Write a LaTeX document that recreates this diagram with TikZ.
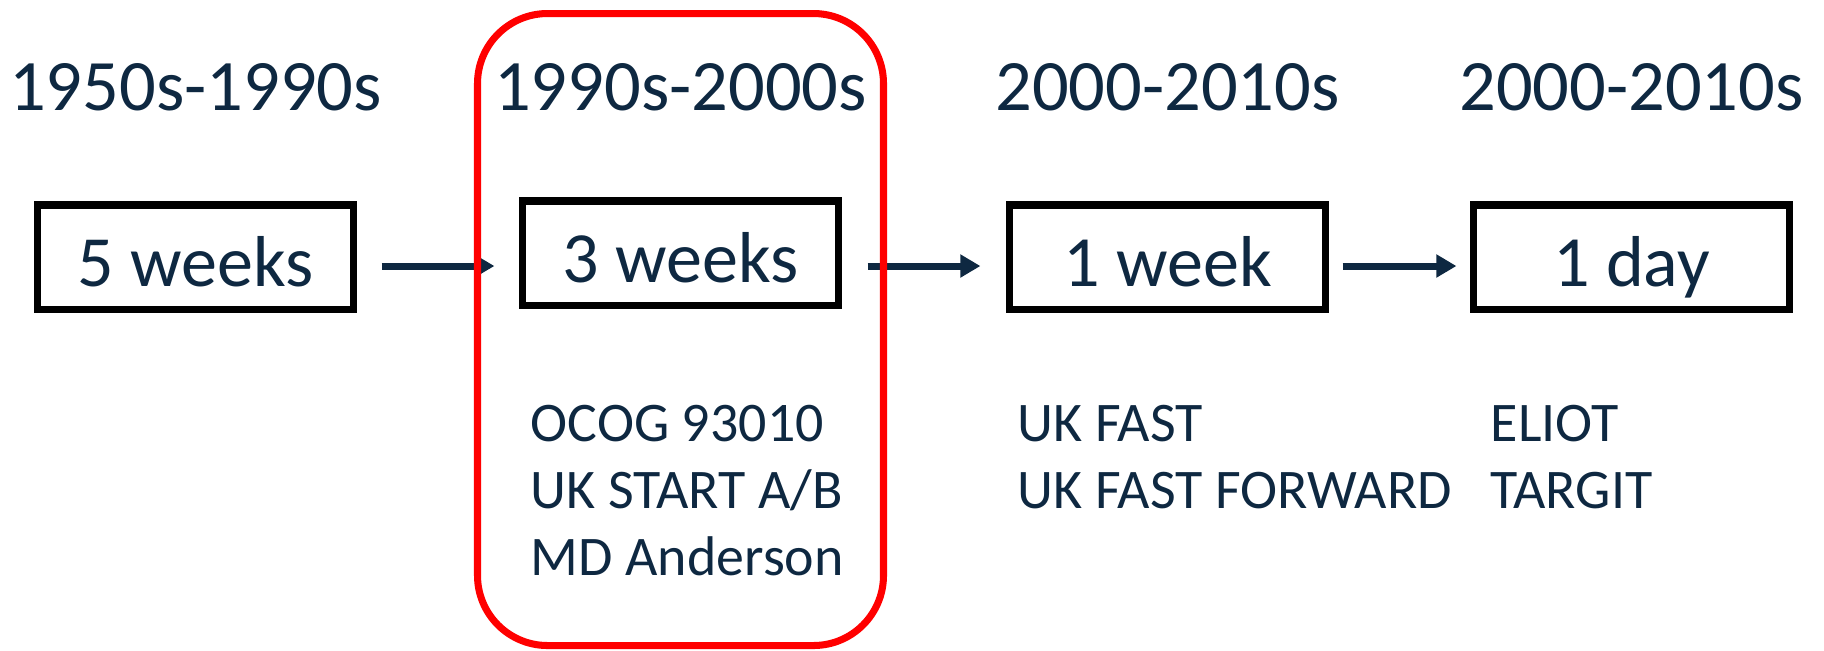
\documentclass[tikz,border=0pt]{standalone}
\usepackage{fontspec}
\setmainfont{Carlito}
\usetikzlibrary{arrows.meta, positioning}
\definecolor{cNavy}{RGB}{14,40,65}
\definecolor{cFocus}{RGB}{255,0,0}
\tikzset{
	period/.style   ={rectangle, draw=black, line width=2pt, minimum width=3.15cm, minimum height=1.04cm, text height=0.6cm, text depth=0.02cm, inner sep=0pt, text=cNavy, font=\fontsize{20.5}{24}\selectfont},
	era/.style      ={anchor=base, inner sep=0pt, text=cNavy, font=\fontsize{20.6}{24}\selectfont},
	trials/.style   ={anchor=base west, align=left, inner sep=0pt, text=cNavy, font=\fontsize{15.9}{19}\selectfont},
	flowarrow/.style={-{Triangle[length=2mm, width=2.2mm]}, line width=2pt, draw=cNavy},
	focus/.style    ={draw=cFocus, line width=2pt, rounded corners=0.7cm},
}

\begin{document}
\begin{tikzpicture}[x=0.01cm, y=-0.01cm]
	\useasboundingbox (0,0) rectangle (1824,650);
	% fractionation schedules
	\node[period] (b1) at (195.5,257) {5 weeks};
	\node[period] (b2) at (680.5,253) {3 weeks};
	\node[period] (b3) at (1167.5,257) {1 week};
	\node[period] (b4) at (1631.5,257) {1 day};
	% decades
	\coordinate (top) at (0,110);
	\node[era] (e1) at (b1 |- top) {1950s-1990s};
	\node[era] (e2) at (b2 |- top) {1990s-2000s};
	\node[era] (e3) at (b3 |- top) {2000-2010s};
	\node[era] (e4) at (b4 |- top) {2000-2010s};
	% arrows
	\coordinate (lane) at (0,266);
	\draw[flowarrow, shorten <=0.25cm, shorten >=0.25cm] (b1.east |- lane) -- (b2.west |- lane);
	\draw[flowarrow, shorten <=0.26cm, shorten >=0.26cm] (b2.east |- lane) -- (b3.west |- lane);
	\draw[flowarrow, shorten <=0.14cm, shorten >=0.14cm] (b3.east |- lane) -- (b4.west |- lane);
	% trials (base = last line)
	\node[trials] (t2) at (530,575) {OCOG 93010\\UK START A/B\\MD Anderson};
	\node[trials] (t3) at (1017,508) {UK FAST\\UK FAST FORWARD};
	\node[trials] (t4) at (1490,508) {ELIOT\\TARGIT};
	% highlight
	\draw[focus] (477.5,13.5) rectangle (883.5,645.5);
\end{tikzpicture}
\end{document}
